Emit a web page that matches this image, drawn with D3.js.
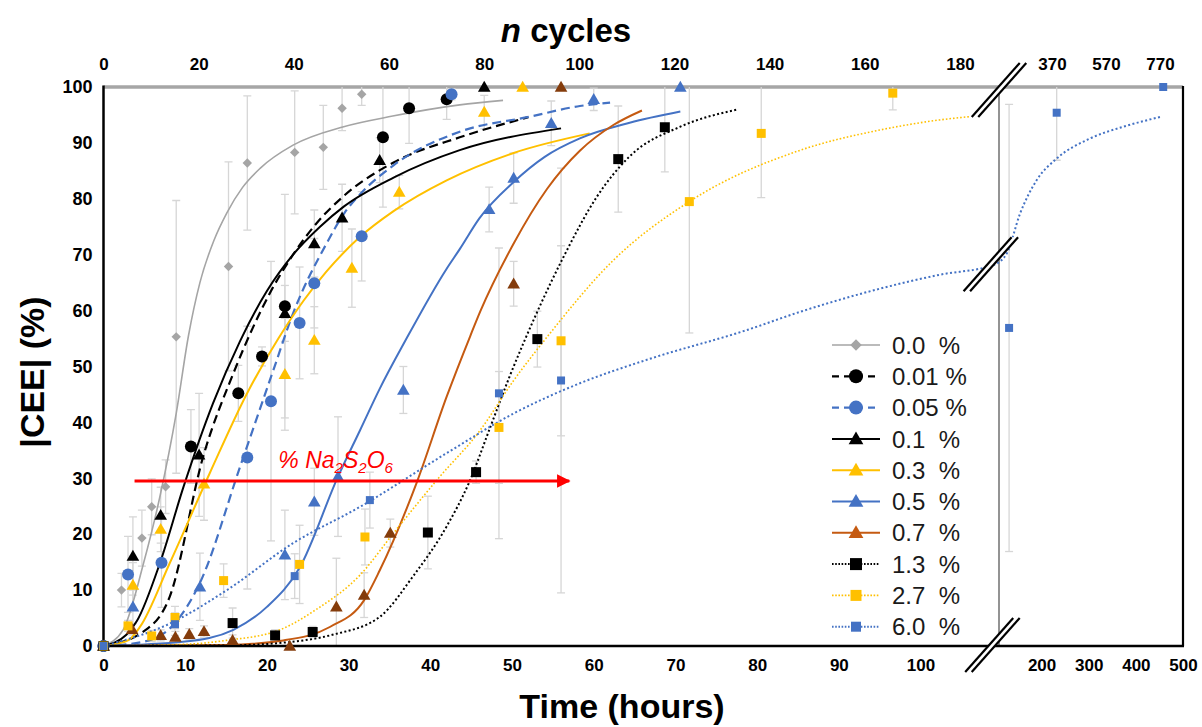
<!DOCTYPE html>
<html><head><meta charset="utf-8">
<script src="https://cdn.jsdelivr.net/npm/d3@7"></script>
<style>
body{margin:0;background:#fff}
svg{display:block;font-family:"Liberation Sans",Arial,sans-serif}
</style>
</head><body>
<svg id="chart" width="1202" height="727"></svg>
<script>
// ---------- DATA ----------
const hourTicks = [0,10,20,30,40,50,60,70,80,90,100,200,300,400,500];
const cycleTicks = [0,20,40,60,80,100,120,140,160,180,370,570,770];
const yTicks = [0,10,20,30,40,50,60,70,80,90,100];
const legendLabels = ["0.0\u00a0\u00a0%","0.01 %","0.05 %","0.1\u00a0\u00a0%","0.3\u00a0\u00a0%","0.5\u00a0\u00a0%","0.7\u00a0\u00a0%","1.3\u00a0\u00a0%","2.7\u00a0\u00a0%","6.0\u00a0\u00a0%"];

// 0.0 %
const s00_h = [0,2.2,4.7,5.9,7.6,8.9,15.3,17.6,23.4,26.9,29.2,31.6];
const s00_v = [0,10,19.3,24.9,28.5,55.3,67.9,86.4,88.3,89.2,96.2,98.7];
const s00_e = [0,3,5,5,4.8,24.4,18.7,12,11,7.5,4,2];
const f00_h = [0,2.4,4.9,6.9,8.9,10.4,11.8,13.5,15.1,17,19.2,23.2,29.4,35.4,43.6,48.9];
const f00_v = [0,2.9,14.8,26.7,41.6,55.5,65,72.5,77.5,82,85.5,89.6,92.9,94.8,96.8,97.6];
// 0.01 %
const s001_h = [0,10.7,16.5,19.4,22.2,34.2,37.4,42];
const s001_v = [0,35.7,45.2,51.8,60.8,91,96.2,97.8];
const s001_e = [0,6.6,5,1.7,20,12.5,6.3,3.6];
const f001_h = [0,4.8,8.1,12.2,15.9,18.3,20.5,23.2,26,29.4,35.5,43.6,52];
const f001_v = [0,2.5,8.8,33.9,48.8,57,63.5,70,75.5,80.5,86.5,91,94.6];
// 0.05 %
const s005_h = [0,3.0,7.1,17.6,20.5,24.0,25.8,31.6,42.6];
const s005_v = [0,12.8,14.9,33.7,43.8,57.8,64.9,73.3,98.7];
const s005_e = [0,6.8,8,23.5,25,10,8,8,1];
const f005_h = [0,5,8.75,11.8,16.7,20.8,23.2,27.3,29.5,31.4,35.5,43.6,52.2,58.3,62];
const f005_v = [0,0.8,4.1,11.3,32,49.4,59.5,72,77.5,80.8,86,92,94.7,96.6,97.2];
// 0.1 %
const s01_h = [0,3.6,7.0,11.7,22.2,25.8,29.2,33.8,46.6];
const s01_v = [0,16.1,23.4,34.2,59.5,72,76.6,86.9,100];
const s01_e = [0,7,5,11,5,6,6,4,0];
const f01_h = [0,2.8,4.1,6.9,9.8,13.4,16.7,20,23.2,26.5,29.4,35.5,43.6,56];
const f01_v = [0,2,4.5,14.8,28.5,43.4,54.5,63.5,70,75,78.6,83.8,88.7,92.6];
// 0.3 %
const s03_h = [0,3.6,7.0,12.3,22.2,25.8,30.4,36.2,46.6,51.3];
const s03_v = [0,10.9,20.9,29,48.6,54.7,67.6,81.2,95.5,100];
const s03_e = [0,4,4,6.5,10,6,7,3,3,0];
const f03_h = [0,3,4.5,8.1,13,17.5,21.4,24.5,27.3,31.4,35.5,42,50.2,59.5];
const f03_v = [0,1,3.5,14.8,30.9,45,55,61.8,67,73.2,77.8,83.3,88.2,91.7];
// 0.5 %
const s05_h = [0,3.6,11.8,22.2,25.8,28.7,36.7,47.2,50.2,54.8,60,70.6];
const s05_v = [0,7,10.6,16.3,25.8,30.3,45.8,78.1,83.7,93.5,97.8,100];
const s05_e = [0,3,6,8,6,10.7,4.2,4,4.5,4,2,0];
const f05_h = [0,10,15.9,20,24,28.7,31.4,33.8,36.9,42,43.6,46,50.2,54,58.3,64.4,70.6];
const f05_v = [0,0.8,2.9,7,14,30.3,38.6,46,54.5,67.5,71,76.5,83,87.5,90.8,93.6,95.6];
// 0.7 %
const s07_h = [0,3.5,7,8.8,10.5,12.3,15.8,22.8,28.5,31.9,35.1,50.2,56];
const s07_v = [0,3,1.9,1.6,2.1,2.6,1,0,7,9.1,20.2,64.8,100];
const s07_e = [0,1,1,1,1,1,1,0,8.7,4,2.5,4,0];
const f07_h = [0,15,22,27.7,31.9,33.8,38.3,42,44.9,46.1,50.2,54.3,58.3,62.4,65.9];
const f07_v = [0,0.2,1,3.4,8.2,13.5,29.1,44.6,55.5,59.8,72,81.8,88.6,93.2,95.8];
// 1.3 %
const s13_h = [0,15.8,21,25.6,39.7,45.6,53.1,63,68.7];
const s13_v = [0,4.1,1.9,2.5,20.3,31.1,54.9,87.1,92.8];
const s13_e = [0,2.7,1,1,6.5,2,5,9.5,8];
const f13_h = [0,15,22,28,33.8,37.9,42,44.7,47.3,49.7,53,56.3,60.4,64.4,70.6,77.7];
const f13_v = [0,0.1,0.6,2,5.2,12.5,21.4,29.1,39,48.2,59.5,69.6,80.4,87.6,92.9,96];
// 2.7 %
const s27_h = [0,3.0,5.9,8.75,14.7,24,32,48.4,56,71.7,80.5,96.6];
const s27_v = [0,3.6,1.8,5.1,11.7,14.6,19.5,39.1,54.6,79.5,91.7,98.9];
const s27_e = [0,1,1,2,3,7,5,10,17,23.5,11.5,3];
const f27_h = [0,10,15,21.6,26,31.4,35.5,40.8,46.1,50.2,54.3,62.4,71.7,85.3,95,102.3,106];
const f27_v = [0,0.3,1,2.9,6.5,12.7,20.2,29.7,38.6,47.5,55.3,69,79.5,88.7,92.3,94.1,94.7];
// 6.0 %
const s60_h = [0,8.75,23.4,32.6,48.4,56,131,232,458];
const s60_v = [0,3.9,12.5,26.1,45.2,47.5,56.9,95.4,100];
const s60_e = [0,2,4,5,26,38,40,8.5,0];
const f60_h = [0,8.1,15.1,23.2,31.4,42,50.2,58.3,66.5,78.7,85.3,102.3,109,112,126,154.5,190,232,303,373.6,455];
const f60_v = [0,4,10,18.4,24.9,34.5,41.6,47,51.2,56.5,59.8,66.4,68.2,68.8,70.2,77.4,83.4,87.2,90.8,92.9,94.7];

// arrow annotation
const arrow_h = [3.8,57];
const arrow_v = 29.5;
const arrowLabel_h = 21.4, arrowLabel_v = 31.8;

// ---------- SERIES STYLE TABLE ----------
const series = [
 {h:s00_h,v:s00_v,e:s00_e,fh:f00_h,fv:f00_v,line:"#a5a5a5",mk:"#a5a5a5",lmk:"#a5a5a5",shape:"diamond",dash:null,w:1.6,size:9},
 {h:s001_h,v:s001_v,e:s001_e,fh:f001_h,fv:f001_v,line:"#000",mk:"#000",lmk:"#000",shape:"circle",dash:"9,5",w:2.2,size:12},
 {h:s005_h,v:s005_v,e:s005_e,fh:f005_h,fv:f005_v,line:"#4472c4",mk:"#4472c4",lmk:"#4472c4",shape:"circle",dash:"9,5",w:2.2,size:12},
 {h:s01_h,v:s01_v,e:s01_e,fh:f01_h,fv:f01_v,line:"#000",mk:"#000",lmk:"#000",shape:"triangle",dash:null,w:2,size:12},
 {h:s03_h,v:s03_v,e:s03_e,fh:f03_h,fv:f03_v,line:"#ffc000",mk:"#ffc000",lmk:"#ffc000",shape:"triangle",dash:null,w:2,size:12},
 {h:s05_h,v:s05_v,e:s05_e,fh:f05_h,fv:f05_v,line:"#4472c4",mk:"#4472c4",lmk:"#4472c4",shape:"triangle",dash:null,w:2,size:12},
 {h:s07_h,v:s07_v,e:s07_e,fh:f07_h,fv:f07_v,line:"#c55a11",mk:"#843c0c",lmk:"#c55a11",shape:"triangle",dash:null,w:2,size:12},
 {h:s13_h,v:s13_v,e:s13_e,fh:f13_h,fv:f13_v,line:"#000",mk:"#000",lmk:"#000",shape:"square",dash:"2,2.4",w:2,size:10},
 {h:s27_h,v:s27_v,e:s27_e,fh:f27_h,fv:f27_v,line:"#ffc000",mk:"#ffc000",lmk:"#ffc000",shape:"square",dash:"1.6,2",w:1.6,size:9},
 {h:s60_h,v:s60_v,e:s60_e,fh:f60_h,fv:f60_v,line:"#4472c4",mk:"#4472c4",lmk:"#4472c4",shape:"square",dash:"2,2.4",w:2,size:8}
];

// ---------- SCALES ----------
const x = d3.scaleLinear().domain([0,109.6,500]).range([103.5,999,1183]);
const xTop = d3.scaleLinear().domain([0,188,370,770]).range([103.5,998,1052,1160]);
const y = d3.scaleLinear().domain([0,100]).range([646,87]);

const svg = d3.select("#chart");
svg.append("rect").attr("width",1202).attr("height",727).attr("fill","#fff");

svg.append("defs").append("clipPath").attr("id","plotclip")
  .append("rect").attr("x",x(0)).attr("y",y(100)).attr("width",x(500)-x(0)).attr("height",y(0)-y(100));

// frame: top gray border (100 gridline), right black, break line
svg.append("line").attr("x1",x(0)).attr("x2",x(500)).attr("y1",y(100)).attr("y2",y(100))
  .attr("stroke","#a6a6a6").attr("stroke-width",3.5);
svg.append("line").attr("x1",x(500)).attr("x2",x(500)).attr("y1",y(100)-1).attr("y2",y(0))
  .attr("stroke","#000").attr("stroke-width",2.2);
svg.append("line").attr("x1",x(109.6)).attr("x2",x(109.6)).attr("y1",y(100)).attr("y2",y(0))
  .attr("stroke","#595959").attr("stroke-width",1.3);

// ---------- ERROR BARS ----------
const eg = svg.append("g").attr("clip-path","url(#plotclip)");
series.forEach(s=>{
  s.h.forEach((h,i)=>{
    const e = s.e[i]; if(!e) return;
    const lo = Math.max(0,s.v[i]-e), hi = Math.min(100,s.v[i]+e);
    const cx = x(h);
    eg.append("line").attr("x1",cx).attr("x2",cx).attr("y1",y(lo)).attr("y2",y(hi))
      .attr("stroke","#d6d6d6").attr("stroke-width",1.3);
    [lo,hi].forEach(val=>{
      if(val<=0||val>=100) return;
      eg.append("line").attr("x1",cx-4).attr("x2",cx+4).attr("y1",y(val)).attr("y2",y(val))
        .attr("stroke","#d6d6d6").attr("stroke-width",1.3);
    });
  });
});

// ---------- FIT LINES ----------
const lineGen = d3.line().x(d=>x(d[0])).y(d=>y(d[1])).curve(d3.curveMonotoneX);
const lg = svg.append("g").attr("clip-path","url(#plotclip)");
series.forEach(s=>{
  const pts = s.fh.map((h,i)=>[h,s.fv[i]]);
  lg.append("path").attr("d",lineGen(pts)).attr("fill","none")
    .attr("stroke",s.line).attr("stroke-width",s.w)
    .attr("stroke-dasharray",s.dash);
});

// ---------- AXES LINES ----------
svg.append("line").attr("x1",x(0)).attr("x2",x(500)+1).attr("y1",y(0)).attr("y2",y(0))
  .attr("stroke","#000").attr("stroke-width",2.5);
svg.append("line").attr("x1",x(0)).attr("x2",x(0)).attr("y1",y(100)-1.5).attr("y2",y(0)+1)
  .attr("stroke","#000").attr("stroke-width",2.5);

// ---------- MARKERS ----------
function symbolPath(shape,size){
  if(shape==="circle") return d3.symbol(d3.symbolCircle, Math.PI*(size/2)*(size/2))();
  if(shape==="triangle") return d3.symbol(d3.symbolTriangle, size*size*0.48)();
  if(shape==="square") return d3.symbol(d3.symbolSquare, size*size)();
  if(shape==="diamond") return d3.symbol(d3.symbolSquare, size*size*0.55)();
}
const mg = svg.append("g");
series.forEach(s=>{
  const p = symbolPath(s.shape,s.size);
  s.h.forEach((h,i)=>{
    const tr = `translate(${x(h)},${y(s.v[i]) + (s.shape==="triangle"?1:0)})` + (s.shape==="diamond"?" rotate(45)":"");
    mg.append("path").attr("d",p).attr("transform",tr).attr("fill",s.mk);
  });
});

// ---------- BREAK MARKS ----------
function breakMark(cx,cy){
  const dx=24, dy=27, gap=6.5;
  const g = svg.append("g");
  g.append("path").attr("d",`M${cx-dx-gap/2},${cy+dy} L${cx+dx-gap/2},${cy-dy} L${cx+dx+gap/2},${cy-dy} L${cx-dx+gap/2},${cy+dy} Z`)
    .attr("fill","#fff");
  [-gap/2,gap/2].forEach(o=>{
    g.append("line").attr("x1",cx-dx+o).attr("y1",cy+dy).attr("x2",cx+dx+o).attr("y2",cy-dy)
      .attr("stroke","#000").attr("stroke-width",2.2);
  });
}
breakMark(x(109.6),y(100)+3);
breakMark(x(108.8),y(0)-1);
breakMark(x(108.6),y(68.3));

// ---------- AXIS LABELS ----------
const tickFont = (g,fs)=>g.selectAll("text").attr("font-size",fs).attr("font-weight","bold").attr("fill","#000")
  .attr("font-family",'"Liberation Sans",Arial,sans-serif');
svg.append("g").attr("transform",`translate(0,${y(0)})`)
  .call(d3.axisBottom(x).tickValues(hourTicks).tickSize(0).tickPadding(13).tickFormat(d3.format("d")))
  .call(g=>g.select(".domain").remove()).call(g=>tickFont(g,17));
svg.append("g").attr("transform",`translate(0,${y(100)})`)
  .call(d3.axisTop(xTop).tickValues(cycleTicks).tickSize(0).tickPadding(17).tickFormat(d3.format("d")))
  .call(g=>g.select(".domain").remove()).call(g=>tickFont(g,17));
svg.append("g").attr("transform",`translate(${x(0)},0)`)
  .call(d3.axisLeft(y).tickValues(yTicks).tickSize(0).tickPadding(11).tickFormat(d3.format("d")))
  .call(g=>g.select(".domain").remove()).call(g=>tickFont(g,18));

// titles
const topTitle = svg.append("text").attr("x",566).attr("y",42).attr("text-anchor","middle")
  .attr("font-size",33).attr("font-weight","bold").attr("fill","#000");
topTitle.append("tspan").attr("font-style","italic").text("n");
topTitle.append("tspan").text(" cycles");
svg.append("text").attr("x",622).attr("y",718).attr("text-anchor","middle")
  .attr("font-size",34).attr("font-weight","bold").attr("fill","#000").text("Time (hours)");
svg.append("text").attr("transform","translate(44,372) rotate(-90)").attr("text-anchor","middle")
  .attr("font-size",34).attr("font-weight","bold").attr("fill","#000").text("|CEE| (%)");

// ---------- ARROW ----------
svg.append("defs").append("marker").attr("id","arr").attr("viewBox","0 0 10 10")
  .attr("refX",9).attr("refY",5).attr("markerWidth",5).attr("markerHeight",4.5)
  .attr("markerUnits","strokeWidth").attr("orient","auto")
  .append("path").attr("d","M0,0 L10,5 L0,10 Z").attr("fill","#ff0000");
svg.append("line").attr("x1",x(arrow_h[0])).attr("x2",x(arrow_h[1])).attr("y1",y(arrow_v)).attr("y2",y(arrow_v))
  .attr("stroke","#ff0000").attr("stroke-width",3).attr("marker-end","url(#arr)");
const lab = svg.append("text").attr("x",x(arrowLabel_h)).attr("y",y(arrowLabel_v))
  .attr("font-size",23).attr("font-style","italic").attr("fill","#ff0000");
lab.append("tspan").text("% Na");
lab.append("tspan").attr("font-size",15).attr("dy",5).text("2");
lab.append("tspan").attr("dy",-5).text("S");
lab.append("tspan").attr("font-size",15).attr("dy",5).text("2");
lab.append("tspan").attr("dy",-5).text("O");
lab.append("tspan").attr("font-size",15).attr("dy",5).text("6");

// ---------- LEGEND ----------
const leg = svg.append("g");
series.forEach((s,i)=>{
  const yy = 345 + i*31.3;
  leg.append("line").attr("x1",832).attr("x2",880).attr("y1",yy).attr("y2",yy)
    .attr("stroke",s.line).attr("stroke-width",s.w).attr("stroke-dasharray",s.dash? (s.dash.startsWith("9")?"7,5":"1.6,1.6"):null);
  leg.append("path").attr("d",symbolPath(s.shape,s.size+2))
    .attr("transform",`translate(856,${yy + (s.shape==="triangle"?1:0)})`+(s.shape==="diamond"?" rotate(45)":""))
    .attr("fill",s.lmk);
  leg.append("text").attr("x",892).attr("y",yy).attr("dy","0.36em").attr("font-size",24)
    .attr("fill","#1a1a1a").text(legendLabels[i]);
});
</script>
</body></html>
